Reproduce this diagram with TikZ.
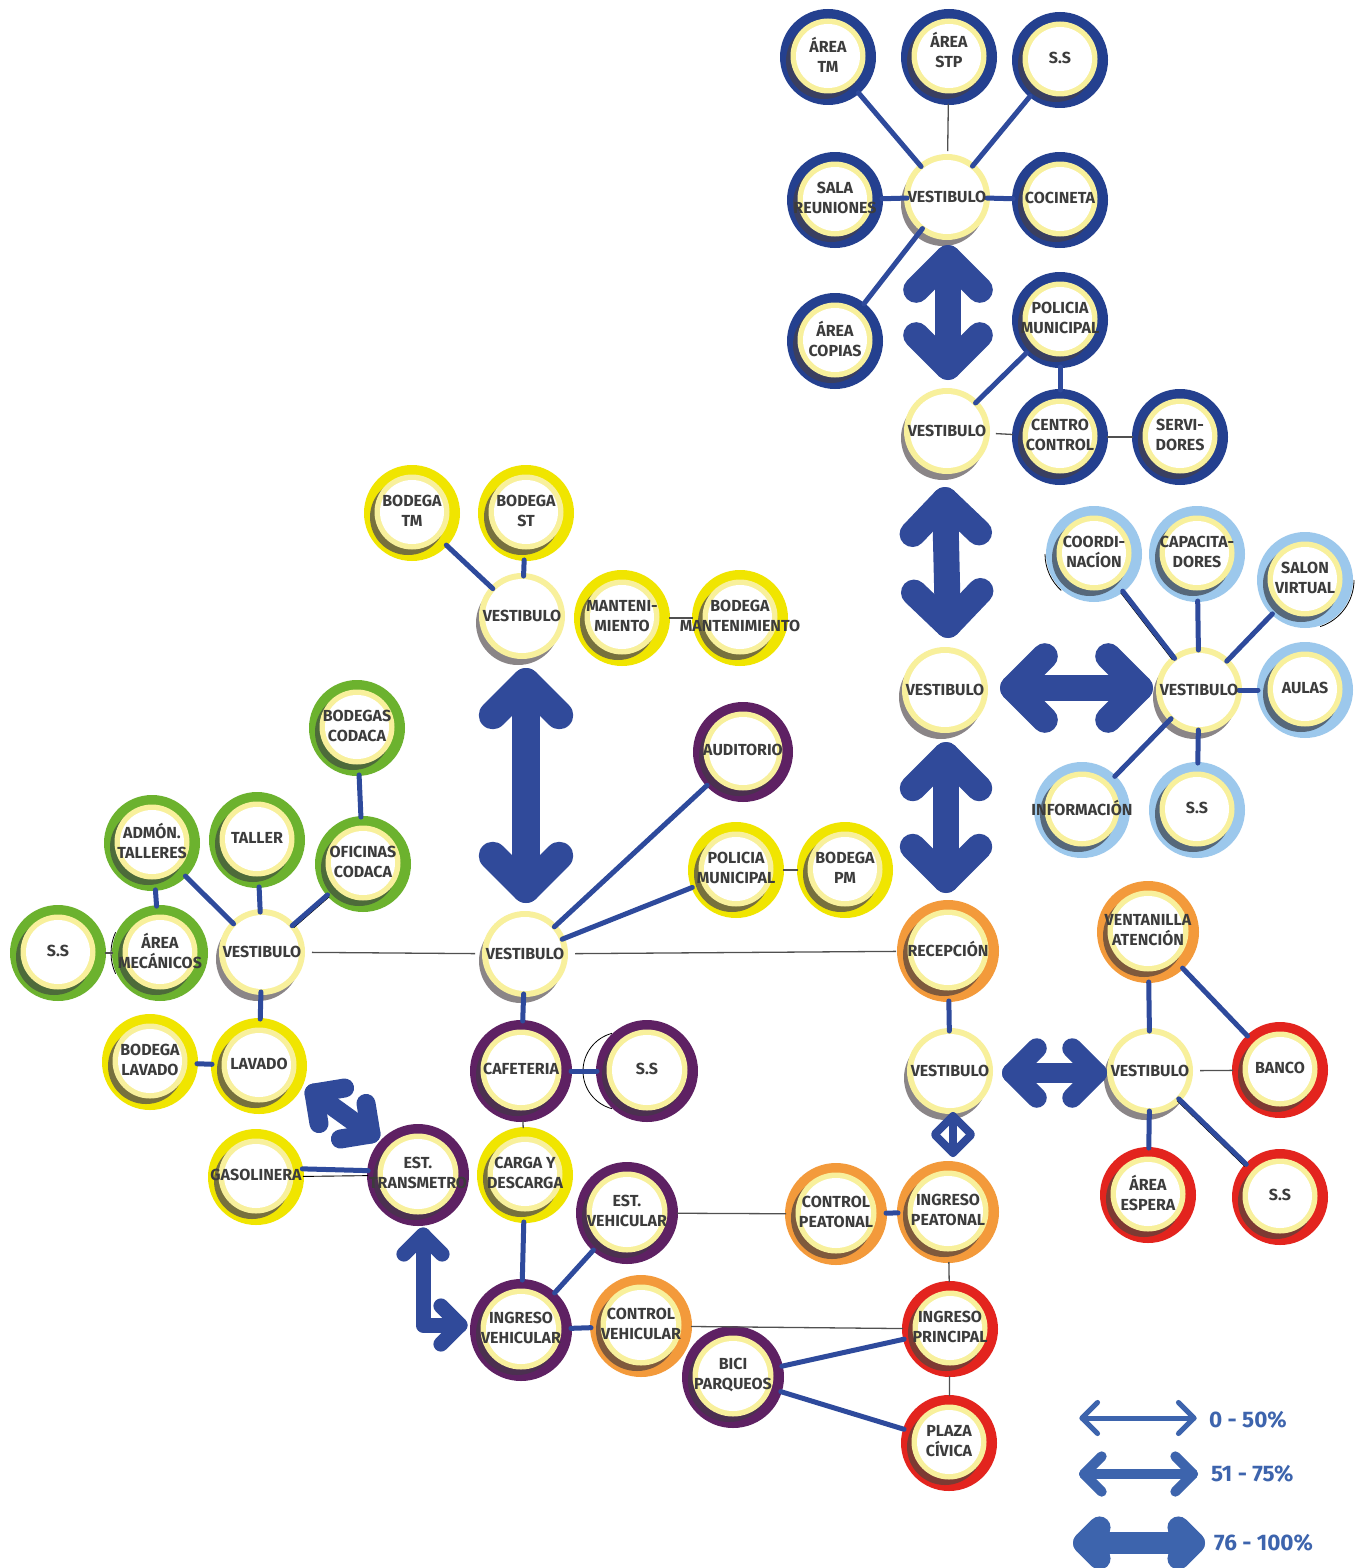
\documentclass[tikz,border=0pt]{standalone}
\usepackage{fontspec}
\setmainfont{Fira Sans}
\usetikzlibrary{calc}

\definecolor{ringB}{HTML}{24408F}
\definecolor{shadeB}{HTML}{3A3F60}
\definecolor{ringL}{HTML}{9CC8EC}
\definecolor{shadeL}{HTML}{56687A}
\definecolor{ringY}{HTML}{F0E500}
\definecolor{shadeY}{HTML}{77713D}
\definecolor{ringG}{HTML}{6CB22E}
\definecolor{shadeG}{HTML}{4D6B3A}
\definecolor{ringO}{HTML}{F39A3B}
\definecolor{shadeO}{HTML}{7F5A3C}
\definecolor{ringR}{HTML}{E3241E}
\definecolor{shadeR}{HTML}{7D3A33}
\definecolor{ringP}{HTML}{5E2163}
\definecolor{shadeP}{HTML}{4B3050}
\definecolor{paley}{HTML}{F8F09C}
\definecolor{vshade}{HTML}{8A8587}
\definecolor{txtgray}{HTML}{3C3C3C}
\definecolor{linkblue}{HTML}{2E4A9C}
\definecolor{arrowblue}{HTML}{304A9A}
\definecolor{legblue}{HTML}{3D64AD}
\definecolor{thingray}{HTML}{505050}

\pgfdeclarelayer{fg}
\pgfsetlayers{main,fg}

\tikzset{
  anch/.style={circle, inner sep=0pt, outer sep=0pt},
  lbl/.style={inner sep=0pt, align=center, text=txtgray,
    font=\fontsize{16}{19.5}\selectfont\bfseries},
  link/.style={draw=linkblue, line width=5pt, line cap=round},
  thinlink/.style={draw=thingray, line width=1.3pt},
  trace/.style={draw=black, line width=0.9pt},
  fat/.style={draw=arrowblue, line cap=round, line join=round},
  legfat/.style={draw=legblue, line cap=round, line join=round},
  legtxt/.style={inner sep=0pt, anchor=west, text=legblue,
    font=\fontsize{22.5}{26}\selectfont\bfseries},
  edgearc/.style={draw=black, line width=0.8pt}
}

% coloured room bubble: [radius]{name}{x,y}{colour key}{label}
\newcommand\bubble[5][49]{%
  \fill[ring#4] (#3) circle[radius=#1pt];
  \fill[shade#4] ($(#3)+(-4,4)$) circle[radius=#1pt-10pt];
  \fill[paley] ($(#3)+(0,-1)$) circle[radius=#1pt-10.5pt];
  \fill[white] ($(#3)+(0,-1)$) circle[radius=#1pt-16pt];
  \node[anch, minimum size=2*#1pt-2pt] (#2) at (#3) {};
  \begin{pgfonlayer}{fg}\node[lbl] at ($(#3)+(0,-2)$) {#5};\end{pgfonlayer}%
}
% lobby bubble: {name}{x,y}
\newcommand\vest[2]{%
  \fill[vshade] ($(#2)+(-4,7)$) circle[radius=42pt];
  \fill[paley] (#2) circle[radius=43pt];
  \fill[white] (#2) circle[radius=37pt];
  \node[anch, minimum size=80pt] (#1) at (#2) {};
  \begin{pgfonlayer}{fg}\node[lbl] at ($(#2)+(0,0)$) {VESTIBULO};\end{pgfonlayer}%
}
% double headed fat arrow: {style}{tip a}{tip b}{width}{arm length}
\newcommand\fatarrow[5]{%
  \draw[#1, line width=#4] (#2) -- (#3);
  \draw[#1, line width=#4] ($(#3)!#5!45:(#2)$) -- (#3) -- ($(#3)!#5!-45:(#2)$);
  \draw[#1, line width=#4] ($(#2)!#5!45:(#3)$) -- (#2) -- ($(#2)!#5!-45:(#3)$);
}

\begin{document}
\begin{tikzpicture}[x=1pt,y=-1pt]
\useasboundingbox (0,0) rectangle (1361,1568);
\fill[white] (0,0) rectangle (1361,1568);

% ---------- administration block (dark blue)
\bubble[48]{atm}{828,57}{B}{ÁREA\\TM}
\bubble[48]{astp}{949,57}{B}{}
\begin{pgfonlayer}{fg}\node[lbl] (astpl) at (949,50) {ÁREA\\STP};\end{pgfonlayer}
\bubble[48]{ssa}{1060,60}{B}{S.S}
\bubble[48]{sala}{835,200}{B}{SALA\\REUNIONES}
\bubble[48]{coc}{1060,200}{B}{COCINETA}
\bubble[48]{acop}{835,341}{B}{ÁREA\\COPIAS}
\bubble[48]{polb}{1060,320}{B}{POLICIA\\MUNICIPAL}
\bubble[48]{cc}{1060,437}{B}{CENTRO\\CONTROL}
\bubble[48]{serv}{1180,437}{B}{SERVI-\\DORES}
\vest{v1}{947,197}
\vest{v2}{947,431}

% ---------- training block (light blue)
\bubble[48]{coord}{1094,554}{L}{COORDI-\\NACÍON}
\bubble[48]{capa}{1197,554}{L}{CAPACITA-\\DORES}
\bubble[48]{salon}{1305,580}{L}{SALON\\VIRTUAL}
\bubble[48]{aulas}{1305,690}{L}{AULAS}
\bubble[48]{info}{1082,810}{L}{INFORMACIÓN}
\bubble[48]{ssb}{1197,810}{L}{S.S}
\vest{v3}{945,690}
\vest{v4}{1199,690}

% ---------- public attention (orange / red)
\bubble[51]{recep}{948,951}{O}{RECEPCIÓN}
\bubble[51]{vent}{1148,932}{O}{VENTANILLA\\ATENCIÓN}
\bubble[48]{banco}{1280,1070}{R}{BANCO}
\bubble[48]{aesp}{1148,1195}{R}{ÁREA\\ESPERA}
\bubble[48]{ssc}{1280,1197}{R}{S.S}
\bubble[51]{ipeat}{948,1212}{O}{INGRESO\\PEATONAL}
\bubble[51]{cpeat}{836,1214}{O}{CONTROL\\PEATONAL}
\bubble[51]{cveh}{641,1326}{O}{CONTROL\\VEHICULAR}
\bubble[48]{ipri}{950,1329}{R}{INGRESO\\PRINCIPAL}
\bubble[48]{plaza}{949,1443}{R}{PLAZA\\CÍVICA}
\vest{v5}{950,1071}
\vest{v6}{1150,1071}

% ---------- storage and services (yellow)
\bubble[48]{btm}{412,513}{Y}{BODEGA\\TM}
\bubble[48]{bst}{526,513}{Y}{BODEGA\\ST}
\bubble[48]{mant}{622,618}{Y}{MANTENI-\\MIENTO}
\bubble[48]{bmant}{740,618}{Y}{BODEGA\\MANTENIMIENTO}
\bubble[48]{polm}{736,870}{Y}{POLICIA\\MUNICIPAL}
\bubble[48]{bpm}{845,870}{Y}{BODEGA\\PM}
\bubble[48]{blav}{150,1062}{Y}{BODEGA\\LAVADO}
\bubble[48]{lav}{259,1066}{Y}{LAVADO}
\bubble[48]{gas}{256,1177}{Y}{GASOLINERA}
\bubble[48]{carga}{525,1175}{Y}{CARGA Y\\DESCARGA}
\vest{v7}{522,616}

% ---------- public areas (purple)
\bubble[50]{aud}{743,752}{P}{AUDITORIO}
\bubble[51]{caf}{521,1071}{P}{CAFETERIA}
\bubble[51]{ssd}{647,1071}{P}{S.S}
\bubble[51]{trans}{418,1175}{P}{EST.\\TRANSMETRO}
\bubble[51]{estv}{627,1213}{P}{EST.\\VEHICULAR}
\bubble[51]{iveh}{521,1330}{P}{INGRESO\\VEHICULAR}
\bubble[51]{bici}{733,1377}{P}{BICI\\PARQUEOS}
\vest{v8}{525,954}

% ---------- workshops (green)
\bubble[48]{bcod}{357,728}{G}{BODEGAS\\CODACA}
\bubble[48]{adm}{152,843}{G}{ADMÓN.\\TALLERES}
\bubble[48]{taller}{257,840}{G}{TALLER}
\bubble[48]{ofic}{363,864}{G}{OFICINAS\\CODACA}
\bubble[48]{sse}{58,953}{G}{S.S}
\bubble[48]{amec}{160,953}{G}{ÁREA\\MECÁNICOS}
\vest{v9}{262,952}

% ---------- thin outline traces on some bubbles
\draw[edgearc] ($(ssd)+(-25,0)$) ++(-39,0) arc[start angle=180, end angle=105, radius=39pt];
\draw[edgearc] ($(ssd)+(-25,0)$) ++(-39,0) arc[start angle=180, end angle=255, radius=39pt];
\draw[edgearc] (amec) ++(-49,0) arc[start angle=180, end angle=155, radius=49pt];
\draw[edgearc] (amec) ++(-49,0) arc[start angle=180, end angle=205, radius=49pt];
\draw[edgearc] (coord) ++(-49,0) arc[start angle=180, end angle=228, radius=49pt];
\draw[edgearc] (salon) ++(49,0) arc[start angle=0, end angle=-72, radius=49pt];

% ---------- thin traces running beside some strong relations
\draw[trace, transform canvas={shift={(-2pt,-1.5pt)}}] (coord) -- (v4);
\draw[trace, transform canvas={shift={(1.5pt,-2pt)}}] (v9) -- (ofic);
\draw[trace, transform canvas={shift={(-1.5pt,-2pt)}}] (v6) -- (ssc);
\draw[trace] (gas) -- (trans);

% ---------- strong relations
\foreach \a/\b in {atm/v1, ssa/v1, sala/v1, coc/v1, acop/v1, polb/v2, polb/cc,
  coord/v4, capa/v4, salon/v4, aulas/v4, info/v4, ssb/v4,
  recep/v5, vent/v6, vent/banco, v6/aesp, v6/ssc, ipeat/cpeat, bici/ipri, bici/plaza,
  btm/v7, bst/v7, v8/aud, v8/polm, v8/caf, caf/ssd, carga/iveh, iveh/estv, iveh/cveh,
  v9/adm, v9/taller, v9/ofic, adm/amec, bcod/ofic, v9/lav, blav/lav}
  \draw[link] (\a) -- (\b);
\draw[link] (gas.10) -- (trans.175);

% ---------- weak relations
\draw[thinlink, shorten >=6pt] (astp) -- (v1);
\draw[thinlink, shorten <=9pt] (v2) -- (cc);
\draw[thinlink] (cc) -- (serv);
\draw[thinlink] (mant) -- (bmant);
\draw[thinlink] (polm) -- (bpm);
\draw[thinlink, shorten <=10pt, shorten >=2pt] (v8) -- (recep);
\draw[thinlink, shorten <=10pt, shorten >=10pt] (v9) -- (v8);
\draw[thinlink] (caf) -- (carga);
\draw[thinlink] (ipeat) -- (ipri);
\draw[thinlink] (ipri) -- (plaza);
\draw[thinlink] (cveh) -- (ipri);
\draw[thinlink] (estv) -- (cpeat);
\draw[thinlink] (sse) -- (amec);
\draw[thinlink, shorten <=10pt] (v6) -- (banco);

% ---------- circulation arrows
\coordinate (a1s) at (948,258);  \coordinate (a1e) at (948,367);
\coordinate (a2s) at (945,500);  \coordinate (a2e) at (948,625);
\coordinate (a3s) at (1013,688); \coordinate (a3e) at (1140,688);
\coordinate (a4s) at (946,755);  \coordinate (a4e) at (946,880);
\coordinate (a5s) at (1012,1073);\coordinate (a5e) at (1097,1073);
\coordinate (a6s) at (953,1116); \coordinate (a6e) at (953,1153);
\coordinate (a7s) at (526,682);  \coordinate (a7e) at (526,889);
\coordinate (a8s) at (314,1093); \coordinate (a8e) at (371,1134);
\fatarrow{fat}{a1s}{a1e}{26pt}{45pt}
\fatarrow{fat}{a2s}{a2e}{26pt}{47pt}
\fatarrow{fat}{a3s}{a3e}{26pt}{45pt}
\fatarrow{fat}{a4s}{a4e}{26pt}{47pt}
\fatarrow{fat}{a5s}{a5e}{20pt}{35pt}
\fatarrow{fat}{a6s}{a6e}{8pt}{25pt}
\fatarrow{fat}{a7s}{a7e}{28pt}{47pt}
\fatarrow{fat}{a8s}{a8e}{19pt}{31pt}
% bent arrow from the transit station to the vehicle entrance
\coordinate (a9s) at (423,1235); \coordinate (a9c) at (423,1325); \coordinate (a9e) at (460,1325);
\draw[fat, line width=15pt] (a9s) -- (a9c) -- (a9e);
\draw[fat, line width=15pt] ($(a9s)!27pt!45:(a9c)$) -- (a9s) -- ($(a9s)!27pt!-45:(a9c)$);
\draw[fat, line width=15pt] ($(a9e)!27pt!45:(a9c)$) -- (a9e) -- ($(a9e)!27pt!-45:(a9c)$);

% ---------- legend
\coordinate (l1s) at (1082,1418); \coordinate (l1e) at (1194,1418);
\coordinate (l2s) at (1084,1474); \coordinate (l2e) at (1193,1474);
\coordinate (l3s) at (1084,1543); \coordinate (l3e) at (1194,1543);
\fatarrow{legfat}{l1s}{l1e}{5pt}{22pt}
\fatarrow{legfat}{l2s}{l2e}{10pt}{25pt}
\fatarrow{legfat}{l3s}{l3e}{22pt}{22pt}
\node[legtxt] (t1) at (1209,1420) {0 - 50\%};
\node[legtxt] (t2) at (1211,1474) {51 - 75\%};
\node[legtxt] (t3) at (1214,1543) {76 - 100\%};
\end{tikzpicture}
\end{document}
